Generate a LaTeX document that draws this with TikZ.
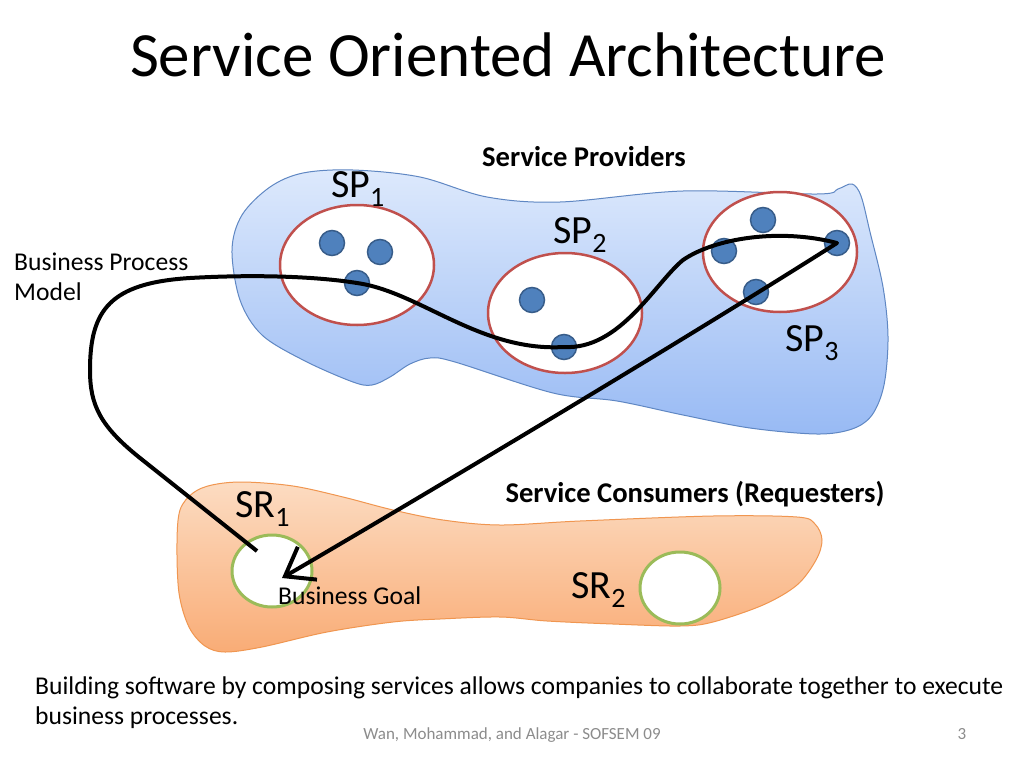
\documentclass[tikz,border=0pt]{standalone}
\usepackage{fontspec}
\setmainfont{Carlito}
\usetikzlibrary{arrows.meta,shapes.geometric}
\definecolor{provtop}{RGB}{221,233,252}
\definecolor{provbot}{RGB}{152,186,244}
\definecolor{provedge}{RGB}{95,135,195}
\definecolor{constop}{RGB}{252,220,194}
\definecolor{consbot}{RGB}{249,172,118}
\definecolor{consedge}{RGB}{240,150,80}
\definecolor{spred}{RGB}{192,80,77}
\definecolor{dotblue}{RGB}{79,129,189}
\definecolor{dotedge}{RGB}{56,93,138}
\definecolor{srgreen}{RGB}{155,187,89}
\definecolor{footgray}{RGB}{140,140,140}

\begin{document}
\begin{tikzpicture}[x=1pt,y=-1pt,
	grp/.style={ellipse,draw=spred,line width=2.5pt,fill=white,minimum width=154pt,minimum height=120pt,inner sep=0pt},
	svc/.style={circle,draw=dotedge,line width=1.5pt,fill=dotblue,minimum size=25pt,inner sep=0pt},
	req/.style={ellipse,draw=srgreen,line width=3pt,fill=white,minimum width=80pt,minimum height=72pt,inner sep=0pt},
	lbl/.style={anchor=base west,inner sep=0pt,font=\fontsize{40}{48}\selectfont},
	txt/.style={anchor=base west,inner sep=0pt,font=\fontsize{25.6}{30}\selectfont},
	head/.style={anchor=base,inner sep=0pt,font=\fontsize{28.6}{34}\selectfont\bfseries},
	flow/.style={line width=4pt,line join=round,-{Straight Barb[length=26pt,width=38pt]}}]
					\useasboundingbox (0,0) rectangle (1024,768);
					\fill[white] (0,0) rectangle (1024,768);

					\path (508,77) node[anchor=base,inner sep=0pt,font=\fontsize{63}{70}\selectfont] (title) {Service Oriented Architecture};

					\path[draw=provedge,line width=1pt,top color=provtop,bottom color=provbot] plot[smooth cycle,tension=0.55] coordinates {
						(232,250) (240,300) (262,335) (305,361) (353,382) (372,385) (390,377) (410,364) (430,358) (455,362)
						(553,393) (617,401) (683,415) (750,428) (817,434) (852,429) (872,415) (884,385) (888,337) (883,287)
						(870,232) (861,196) (852,184) (838,189) (817,194) (683,191) (560,202) (487,197) (420,177) (353,170)
						(303,173) (270,187) (242,215)};

					\path[draw=consedge,line width=1pt,top color=constop,bottom color=consbot] plot[smooth cycle,tension=0.55] coordinates {
						(180,510) (193,493) (212,485) (243,482) (293,486) (343,497) (393,510) (443,520) (500,525) (580,521)
						(713,516) (797,517) (815,524) (822,540) (816,560) (797,585) (763,605) (713,622) (680,626) (613,624)
						(547,621) (500,617) (440,619) (393,622) (327,632) (262,647) (225,652) (205,646) (189,627) (179,593)
						(177,543)};

					\path (357,265) node[grp] (sp1) {};
					\path (565,313) node[grp] (sp2) {};
					\path (780,252) node[grp] (sp3) {};

					\path (332,243) node[svc] (s11) {};
					\path (380,252) node[svc] (s12) {};
					\path (357,283) node[svc] (s13) {};
					\path (532,300) node[svc] (s21) {};
					\path (564,347) node[svc] (s22) {};
					\path (763,220) node[svc] (s31) {};
					\path (724,251) node[svc] (s32) {};
					\path (837,243) node[svc] (s33) {};
					\path (756,292) node[svc] (s34) {};

					\path (272,571) node[req] (sr1) {};
					\path (680,588) node[req] (sr2) {};

					\coordinate (bpm) at (257,551);
					\coordinate (goal) at (282,578);
					\draw[flow] (bpm) -- (140,458) .. controls (100,426) and (90,405) .. (90,370)
						.. controls (90,310) and (110,283) .. (190,278) .. controls (260,274) and (320,277) .. (s13.center)
						.. controls (420,292) and (480,352) .. (s22.center) .. controls (620,350) and (655,283) .. (683,260)
						.. controls (715,238) and (780,228) .. (s33.center) .. controls (700,330) and (450,480) .. (goal);

					\path (584,166) node[head] (provh) {Service Providers};
					\path (695,502) node[head] (consh) {Service Consumers (Requesters)};

					\path (331,197) node[lbl] (sp1l) {SP\textsubscript{1}};
					\path (553,243) node[lbl] (sp2l) {SP\textsubscript{2}};
					\path (785,351) node[lbl] (sp3l) {SP\textsubscript{3}};
					\path (235,517) node[lbl] (sr1l) {SR\textsubscript{1}};
					\path (571,598) node[lbl] (sr2l) {SR\textsubscript{2}};

					\path (14,270) node[txt] (bpm1) {Business Process};
					\path (14,300) node[txt] (bpm2) {Model};
					\path (278,604) node[txt] (goall) {Business Goal};

					\path (35,694) node[txt] (note1) {Building software by composing services allows companies to collaborate together to execute};
					\path (35,724) node[txt] (note2) {business processes.};

					\path (512,739) node[anchor=base,inner sep=0pt,text=footgray,font=\fontsize{17}{20}\selectfont] (foot) {Wan, Mohammad, and Alagar - SOFSEM 09};
					\path (962,739) node[anchor=base,inner sep=0pt,text=footgray,font=\fontsize{17}{20}\selectfont] (page) {3};
					\end{tikzpicture}
\end{document}
